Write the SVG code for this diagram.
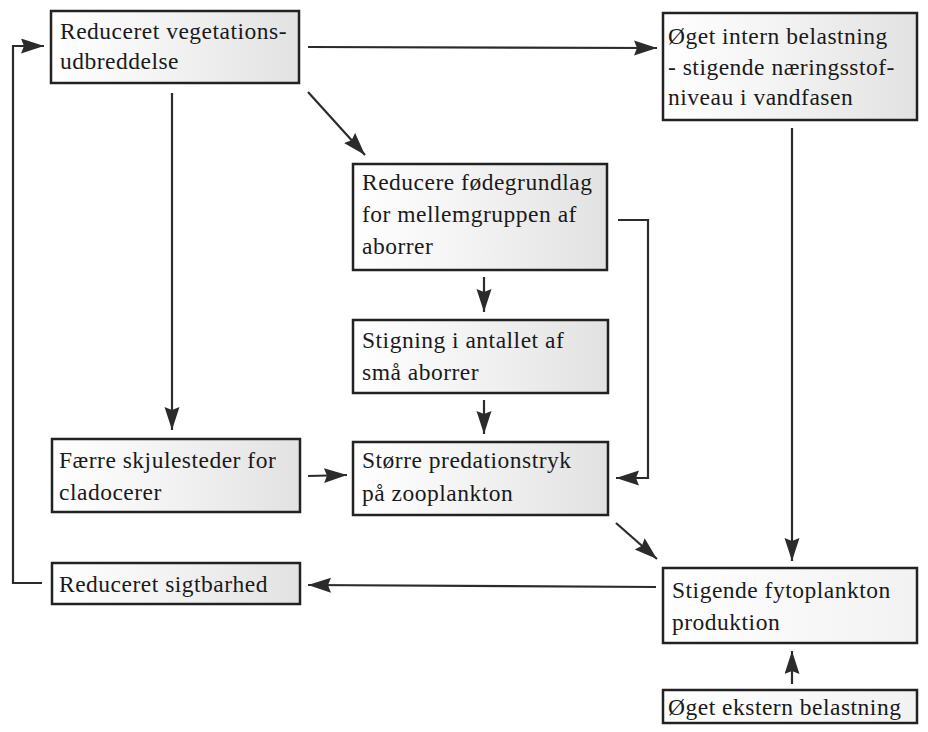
<svg xmlns="http://www.w3.org/2000/svg" width="928" height="732" viewBox="0 0 928 732">
<defs>
<linearGradient id="shade" x1="0" y1="0" x2="1" y2="0">
<stop offset="0" stop-color="#ffffff"/>
<stop offset="0.35" stop-color="#f6f6f6"/>
<stop offset="1" stop-color="#e2e2e2"/>
</linearGradient>
<linearGradient id="shadeLight" x1="0" y1="0" x2="1" y2="0">
<stop offset="0" stop-color="#ffffff"/>
<stop offset="1" stop-color="#f2f2f2"/>
</linearGradient>
<marker id="arr" markerUnits="userSpaceOnUse" markerWidth="26" markerHeight="16" refX="23" refY="7.5" orient="auto">
<path d="M0,0 L23,7.5 L0,15 L3,7.5 z" fill="#2b2b2b"/>
</marker>
</defs>
<style>
.box{fill:url(#shade);stroke:#222;stroke-width:2.5}
.boxl{fill:url(#shadeLight);stroke:#222;stroke-width:2.5}
.c{fill:none;stroke:#2b2b2b;stroke-width:2.2}
.a{marker-end:url(#arr)}
</style>
<rect width="928" height="732" fill="#ffffff"/>
<g id="connectors">
<line class="c a" x1="308" y1="47" x2="657" y2="48"/>
<line class="c a" x1="308" y1="92" x2="365" y2="155"/>
<line class="c a" x1="172" y1="93" x2="172" y2="430"/>
<polyline class="c a" points="618,220 648,220 648,478 616,478"/>
<line class="c a" x1="484" y1="277" x2="484" y2="312"/>
<line class="c a" x1="484" y1="400" x2="484" y2="434"/>
<line class="c a" x1="308" y1="476" x2="347" y2="475"/>
<line class="c a" x1="616" y1="523" x2="657" y2="559"/>
<line class="c a" x1="792" y1="128" x2="792" y2="561"/>
<line class="c a" x1="656" y1="587" x2="308" y2="585"/>
<line class="c a" x1="792" y1="684" x2="792" y2="651"/>
<polyline class="c a" points="42,583 13,583 13,46 44,46"/>
</g>
<g font-family="Liberation Serif, Times New Roman, serif" font-size="23.5" fill="#1a1a1a" letter-spacing="0.5">
<g id="n1">
<rect class="box" x="51" y="11" width="248" height="72"/>
<text x="60" y="39">Reduceret vegetations-</text>
<text x="60" y="69">udbreddelse</text>
</g>
<g id="n2">
<rect class="box" x="663" y="13" width="254" height="107"/>
<text x="668" y="44">Øget intern belastning</text>
<text x="668" y="75">- stigende næringsstof-</text>
<text x="668" y="105">niveau i vandfasen</text>
</g>
<g id="n3">
<rect class="box" x="353" y="164" width="254" height="106"/>
<text x="362" y="190">Reducere fødegrundlag</text>
<text x="362" y="222">for mellemgruppen af</text>
<text x="362" y="254">aborrer</text>
</g>
<g id="n4">
<rect class="box" x="353" y="320" width="255" height="73"/>
<text x="362" y="348">Stigning i antallet af</text>
<text x="362" y="380">små aborrer</text>
</g>
<g id="n5">
<rect class="box" x="353" y="442" width="255" height="73"/>
<text x="362" y="468">Større predationstryk</text>
<text x="362" y="501">på zooplankton</text>
</g>
<g id="n6">
<rect class="box" x="52" y="439" width="248" height="73"/>
<text x="59" y="468">Færre skjulesteder for</text>
<text x="59" y="500">cladocerer</text>
</g>
<g id="n7">
<rect class="box" x="52" y="563" width="248" height="41"/>
<text x="59" y="592">Reduceret sigtbarhed</text>
</g>
<g id="n8">
<rect class="boxl" x="663" y="568" width="254" height="75"/>
<text x="672" y="598">Stigende fytoplankton</text>
<text x="672" y="630">produktion</text>
</g>
<g id="n9">
<rect class="boxl" x="663" y="690" width="254" height="33"/>
<text x="668" y="715">Øget ekstern belastning</text>
</g>
</g>
</svg>
